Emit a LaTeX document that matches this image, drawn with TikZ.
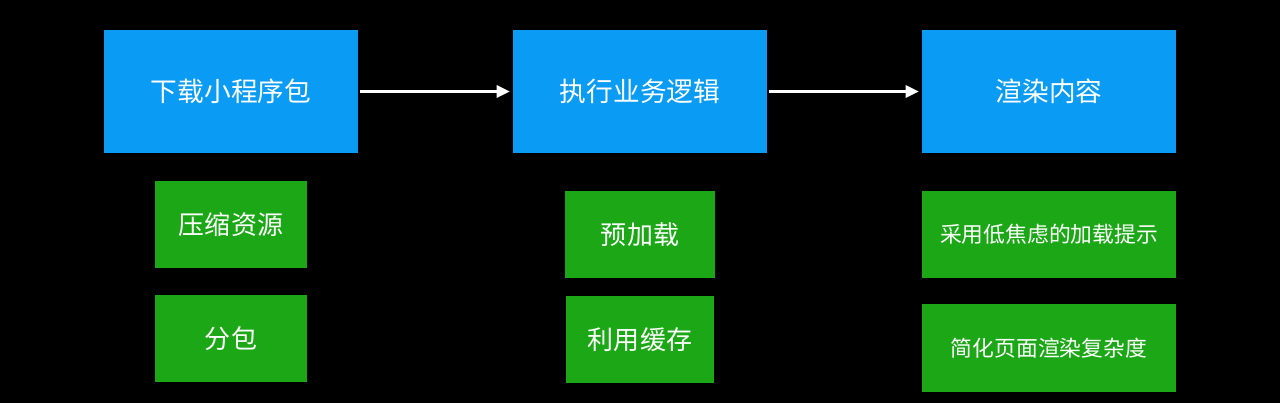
\documentclass[tikz,border=0pt]{standalone}
\usepackage{fontspec}
\newfontfamily\cjk{Noto Sans CJK SC}
\usetikzlibrary{arrows.meta, positioning}
\definecolor{stageblue}{RGB}{10,155,245}
\definecolor{tipgreen}{RGB}{28,168,22}

\begin{document}
\begin{tikzpicture}
    \tikzstyle{stage} = [rectangle, fill=stageblue, text=white, minimum width=6.35cm,
                         minimum height=3.075cm, inner sep=0pt, outer sep=0pt,
                         font=\cjk\fontsize{19}{19}\selectfont]
    \tikzstyle{tip} = [rectangle, fill=tipgreen, text=white, minimum width=3.8cm,
                       minimum height=2.175cm, inner sep=0pt, outer sep=0pt,
                       font=\cjk\fontsize{18.5}{18.5}\selectfont]
    \tikzstyle{widetip} = [tip, minimum width=6.35cm, font=\cjk\fontsize{15.5}{15.5}\selectfont]
    \tikzstyle{link} = [-{Triangle[length=0.33cm, width=0.3cm]}, white, line width=2.2pt,
                        shorten <=0.05cm, shorten >=0.08cm]

    % background
    \fill[black] (0,0) rectangle (32,-10.075);
    \useasboundingbox (0,0) rectangle (32,-10.075);

    % main stages
    \node (load)   [stage] at (5.775,-2.2875)      {下载小程序包};
    \node (run)    [stage, right=3.875cm of load]  {执行业务逻辑};
    \node (render) [stage, right=3.875cm of run]   {渲染内容};

    % measures below each stage
    \node (zip)    [tip, below=0.7cm of load]      {压缩资源};
    \node (split)  [tip, below=0.675cm of zip]     {分包};
    \node (pre)    [tip, minimum width=3.75cm, below=0.95cm of run] {预加载};
    \node (cache)  [tip, minimum width=3.7cm, below=0.45cm of pre]  {利用缓存};
    \node (hint)   [widetip, below=0.95cm of render] {采用低焦虑的加载提示};
    \node (simple) [widetip, minimum height=2.2cm, below=0.65cm of hint] {简化页面渲染复杂度};

    \draw [link] (load) -- (run);
    \draw [link] (run) -- (render);
\end{tikzpicture}
\end{document}
